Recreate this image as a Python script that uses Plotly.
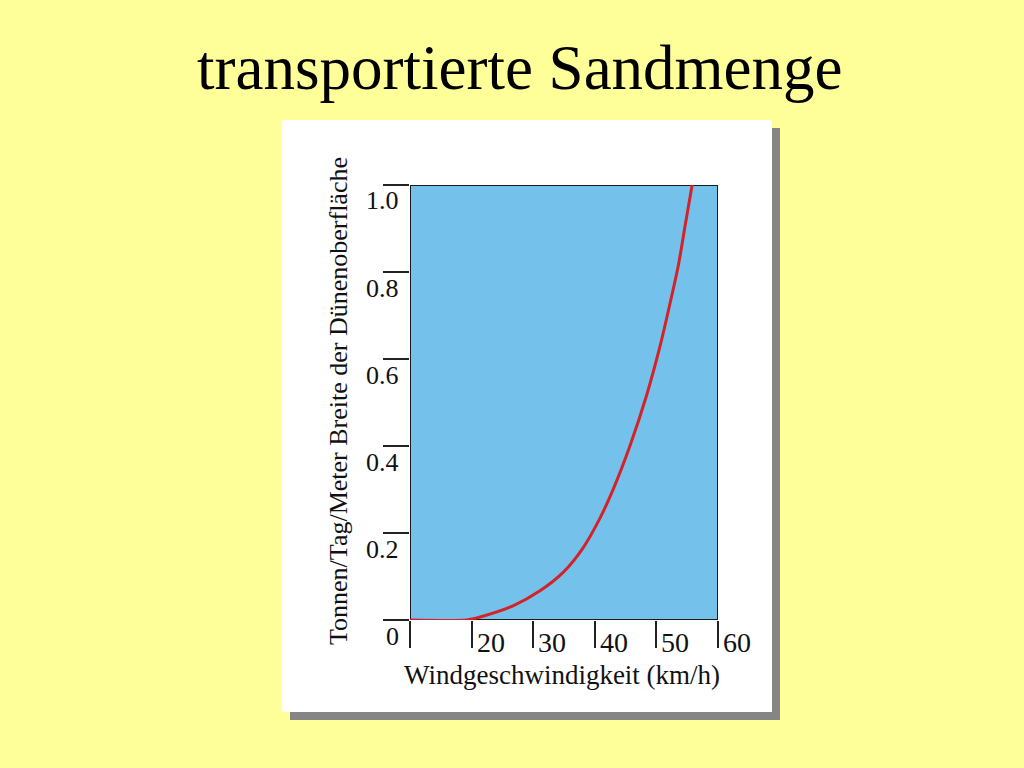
import plotly.graph_objects as go

# ---- data ----
wind_kmh = [10, 19.2, 21.4, 26.8, 31.1, 34.9, 38.1, 40.8, 43.0, 45.7, 48.4, 50.6, 52.2, 53.6, 54.7, 55.8]
sand_t = [0.0, 0.0, 0.007, 0.033, 0.067, 0.110, 0.166, 0.233, 0.301, 0.400, 0.516, 0.630, 0.727, 0.818, 0.910, 1.0]

x_tick_vals = [10, 20, 30, 40, 50, 60]
x_tick_text = ["", "20", "30", "40", "50", "60"]
y_tick_vals = [0, 0.2, 0.4, 0.6, 0.8, 1.0]
y_tick_text = ["0", "0.2", "0.4", "0.6", "0.8", "1.0"]

title_text = "transportierte Sandmenge"
x_title = "Windgeschwindigkeit (km/h)"
y_title = "Tonnen/Tag/Meter Breite der Dünenoberfläche"

# ---- layout helpers ----
W, H = 1024, 768
FONT = "Liberation Serif"


def px(x):
    return x / W


def py(y):
    return 1 - y / H


fig = go.Figure()

fig.add_trace(go.Scatter(
    x=wind_kmh, y=sand_t, mode="lines",
    line=dict(color="#D42328", width=3, shape="spline", smoothing=0.7),
    hoverinfo="skip", showlegend=False,
))

shapes = [
    # shadow of white card
    dict(type="rect", xref="paper", yref="paper", x0=px(290), x1=px(780), y0=py(720), y1=py(128),
         fillcolor="#858585", line=dict(width=0), layer="below"),
    # white card
    dict(type="rect", xref="paper", yref="paper", x0=px(282), x1=px(772), y0=py(712), y1=py(120),
         fillcolor="white", line=dict(width=0), layer="below"),
    # blue plot area with black frame
    dict(type="rect", xref="x", yref="y", x0=10, x1=60, y0=0, y1=1,
         fillcolor="#74C2EC", line=dict(color="#1a1a1a", width=2), layer="below"),
]

annotations = []
for v, t in zip(y_tick_vals, y_tick_text):
    annotations.append(dict(x=10, y=v, xref="x", yref="y", text=t, showarrow=False,
                            xanchor="right", yanchor="middle", xshift=-9, yshift=-16,
                            font=dict(family=FONT, size=26, color="#111")))
for v, t in zip(x_tick_vals, x_tick_text):
    if t:
        annotations.append(dict(x=v, y=0, xref="x", yref="y", text=t, showarrow=False,
                                xanchor="left", yanchor="middle", xshift=3, yshift=-22,
                                font=dict(family=FONT, size=28, color="#111")))

annotations.append(dict(x=px(520), y=py(68), xref="paper", yref="paper", text=title_text,
                        showarrow=False, xanchor="center", yanchor="middle",
                        font=dict(family=FONT, size=63, color="black")))
annotations.append(dict(x=px(562), y=py(675), xref="paper", yref="paper", text=x_title,
                        showarrow=False, xanchor="center", yanchor="middle",
                        font=dict(family=FONT, size=27, color="#111")))
annotations.append(dict(x=px(338), y=py(401), xref="paper", yref="paper", text=y_title,
                        showarrow=False, xanchor="center", yanchor="middle", textangle=-90,
                        font=dict(family=FONT, size=26, color="#111")))

fig.update_layout(
    width=W, height=H,
    margin=dict(l=0, r=0, t=0, b=0),
    paper_bgcolor="#FFFF99",
    plot_bgcolor="rgba(0,0,0,0)",
    shapes=shapes,
    annotations=annotations,
    xaxis=dict(domain=[px(410), px(718)], range=[10, 60], tickvals=x_tick_vals,
               ticks="outside", ticklen=27, tickwidth=1.5, tickcolor="#222",
               showticklabels=False, showgrid=False, zeroline=False, showline=False,
               fixedrange=True),
    yaxis=dict(domain=[py(620), py(185)], range=[0, 1], tickvals=y_tick_vals,
               ticks="outside", ticklen=26, tickwidth=1.5, tickcolor="#222",
               showticklabels=False, showgrid=False, zeroline=False, showline=False,
               fixedrange=True),
)

fig.write_html(
    "out.html",
    config={"displayModeBar": False},
    post_script="document.body.style.margin='0';document.body.style.background='#FFFF99';",
)
